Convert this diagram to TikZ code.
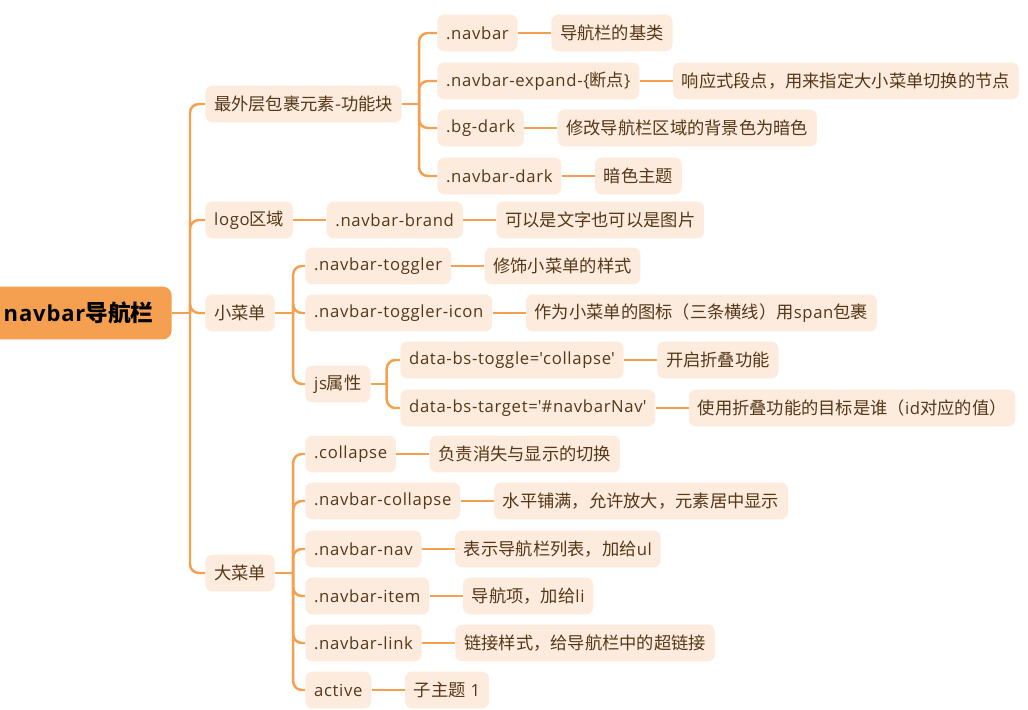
\documentclass[tikz,border=0pt]{standalone}
\usepackage{fontspec}
\setmainfont[LetterSpace=4]{Open Sans}
\newfontfamily\cjk[Scale=1.035]{Noto Sans CJK SC}
\usetikzlibrary{positioning}
\definecolor{mapline}{RGB}{245,160,80}
\definecolor{mapfill}{RGB}{253,236,221}
\definecolor{maptext}{RGB}{85,55,25}
\tikzset{
  topic/.style={fill=mapfill, text=maptext, rounded corners=4pt, inner xsep=5pt,
    minimum height=21pt, font=\fontsize{9.5}{11}\selectfont, anchor=west},
  rootbox/.style={fill=mapline, text=black, rounded corners=5pt, minimum height=30pt,
    font=\fontsize{12.5}{14}\selectfont\bfseries},
  link/.style={draw=mapline, line width=1.4pt},
  elbow/.style={link, rounded corners=5pt},
}
\begin{document}
\begin{tikzpicture}[x=0.02cm, y=-0.02cm]
        \useasboundingbox (0,0) rectangle (1028,710);
        % root and first level
            \node[rootbox, anchor=east, minimum width=3.72cm] (root) at (172,313) {navbar{\cjk 导航栏}};
            \node[topic] (outer) at (205,104) {\cjk 最外层包裹元素-功能块};
            \node[topic] (logo) at (205,220) {logo{\cjk 区域}};
            \node[topic] (small) at (205,313) {\cjk 小菜单};
            \node[topic] (big) at (205,573) {\cjk 大菜单};
        % second level
            \node[topic] (nb) at (437,33) {.navbar};
            \node[topic] (nbx) at (437,81) {.navbar-expand-\{{\cjk 断点}\}};
            \node[topic] (bg) at (437,128) {.bg-dark};
            \node[topic] (nbd) at (437,176) {.navbar-dark};
            \node[topic, right=0.66cm of logo] (brand) {.navbar-brand};
            \node[topic] (tog) at (305,266) {.navbar-toggler};
            \node[topic] (togi) at (305,313) {.navbar-toggler-icon};
            \node[topic] (js) at (305,384) {js{\cjk 属性}};
            \node[topic] (jst) at (400,360) {data-bs-toggle=\textquotesingle collapse\textquotesingle};
            \node[topic] (jsg) at (400,408) {data-bs-target=\textquotesingle\#navbarNav\textquotesingle};
            \node[topic] (col) at (305,454) {.collapse};
            \node[topic] (ncol) at (305,501) {.navbar-collapse};
            \node[topic] (nav) at (305,549) {.navbar-nav};
            \node[topic] (item) at (305,596) {.navbar-item};
            \node[topic] (lnk) at (305,643) {.navbar-link};
            \node[topic] (act) at (305,690) {active};
        % descriptions
            \node[topic, right=0.66cm of nb] (nb-d) {\cjk 导航栏的基类};
            \node[topic, right=0.66cm of nbx] (nbx-d) {\cjk 响应式段点，用来指定大小菜单切换的节点};
            \node[topic, right=0.66cm of bg] (bg-d) {\cjk 修改导航栏区域的背景色为暗色};
            \node[topic, right=0.66cm of nbd] (nbd-d) {\cjk 暗色主题};
            \node[topic, right=0.66cm of brand] (brand-d) {\cjk 可以是文字也可以是图片};
            \node[topic, right=0.66cm of tog] (tog-d) {\cjk 修饰小菜单的样式};
            \node[topic, right=0.66cm of togi] (togi-d) {{\cjk 作为小菜单的图标（三条横线）用}span{\cjk 包裹}};
            \node[topic, right=0.66cm of jst] (jst-d) {\cjk 开启折叠功能};
            \node[topic, right=0.66cm of jsg] (jsg-d) {{\cjk 使用折叠功能的目标是谁（}id{\cjk 对应的值）}};
            \node[topic, right=0.66cm of col] (col-d) {\cjk 负责消失与显示的切换};
            \node[topic, right=0.66cm of ncol] (ncol-d) {\cjk 水平铺满，允许放大，元素居中显示};
            \node[topic, right=0.66cm of nav] (nav-d) {{\cjk 表示导航栏列表，加给}ul};
            \node[topic, right=0.66cm of item] (item-d) {{\cjk 导航项，加给}li};
            \node[topic, right=0.66cm of lnk] (lnk-d) {\cjk 链接样式，给导航栏中的超链接};
            \node[topic, right=0.66cm of act] (act-d) {{\cjk 子主题} 1};
        % branches
            \draw[link] (root.east) -- ++(18,0) coordinate (root-t);
            \foreach \c in {outer,logo,small,big}
                \draw[elbow] (root-t) |- (\c.west);
            \draw[link] (outer.east) -- ++(17,0) coordinate (outer-t);
            \foreach \c in {nb,nbx,bg,nbd}
                \draw[elbow] (outer-t) |- (\c.west);
            \draw[link] (logo.east) -- (brand.west);
            \draw[link] (small.east) -- ++(18,0) coordinate (small-t);
            \foreach \c in {tog,togi,js}
                \draw[elbow] (small-t) |- (\c.west);
            \draw[link] (js.east) -- ++(16,0) coordinate (js-t);
            \foreach \c in {jst,jsg}
                \draw[elbow] (js-t) |- (\c.west);
            \draw[link] (big.east) -- ++(18,0) coordinate (big-t);
            \foreach \c in {col,ncol,nav,item,lnk,act}
                \draw[elbow] (big-t) |- (\c.west);
        % leaves
            \foreach \a in {nb,nbx,bg,nbd,brand,tog,togi,jst,jsg,col,ncol,nav,item,lnk,act}
                \draw[link] (\a.east) -- (\a-d.west);
        \end{tikzpicture}
\end{document}
